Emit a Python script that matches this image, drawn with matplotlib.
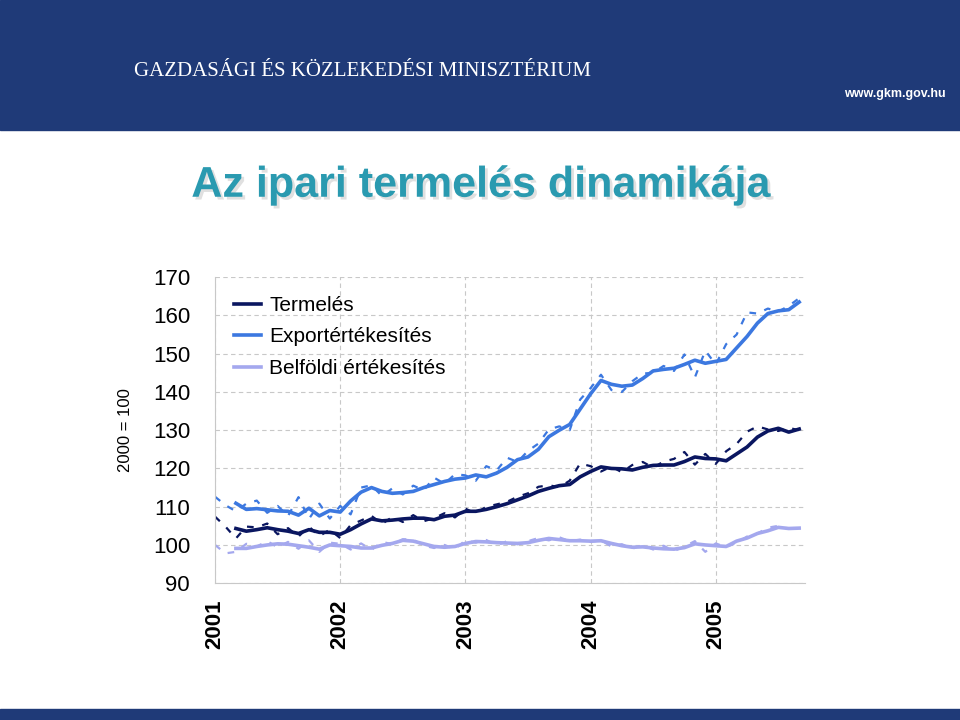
import matplotlib.pyplot as plt
from matplotlib.patches import Rectangle
import matplotlib.patheffects as pe

plt.rcParams['font.family'] = 'Liberation Sans'

years = ['2001', '2002', '2003', '2004', '2005']

# trend (solid) series, monthly from 2001 March to 2005 September
termeles = [104.3, 103.6, 104.0, 104.5, 104.0, 103.6, 103.0, 104.0, 103.3, 103.3,
            102.8, 104.0, 105.5, 106.8, 106.3, 106.5, 106.8, 107.0, 107.0, 106.6,
            107.5, 107.8, 108.8, 108.8, 109.3, 110.0, 110.8, 111.8, 112.8, 114.0,
            114.8, 115.5, 115.8, 117.8, 119.2, 120.4, 120.0, 119.9, 119.6, 120.3,
            120.8, 120.9, 120.9, 121.8, 123.0, 122.6, 122.5, 122.0, 123.8, 125.6,
            128.2, 129.8, 130.5, 129.5, 130.3]
export = [110.9, 109.3, 109.5, 109.2, 108.9, 108.8, 107.8, 109.6, 107.6, 109.0,
          108.6, 111.5, 113.8, 115.0, 114.0, 113.5, 113.7, 114.0, 115.0, 115.8,
          116.6, 117.2, 117.5, 118.3, 117.8, 118.8, 120.3, 122.3, 123.0, 125.0,
          128.3, 130.0, 131.5, 135.5, 139.5, 143.0, 142.0, 141.5, 141.8, 143.5,
          145.5, 145.9, 146.2, 147.2, 148.3, 147.5, 148.0, 148.5, 151.5, 154.5,
          158.0, 160.5, 161.2, 161.5, 163.5]
belfoldi = [99.1, 99.1, 99.6, 100.0, 100.3, 100.2, 99.8, 99.4, 98.9, 100.0,
            99.8, 99.6, 99.2, 99.2, 99.9, 100.4, 101.2, 101.0, 100.3, 99.6,
            99.4, 99.6, 100.4, 100.9, 100.8, 100.6, 100.5, 100.4, 100.6, 101.2,
            101.7, 101.4, 101.1, 101.1, 101.0, 101.1, 100.4, 99.8, 99.4, 99.5,
            99.2, 99.0, 98.9, 99.3, 100.3, 100.0, 99.8, 99.6, 101.0, 101.8,
            103.0, 103.7, 104.6, 104.3, 104.4]

# raw (dashed) series, monthly from 2001 January to 2005 September
termeles_raw = [107.4, 104.8, 101.7, 104.8, 104.6, 105.6, 102.8, 104.4, 102.2, 104.8,
                102.3, 104.0, 101.8, 105.2, 106.4, 107.6, 105.5, 107.3, 106.0, 107.8,
                106.2, 107.0, 108.3, 107.2, 109.5, 108.2, 110.0, 110.6, 111.3, 112.6,
                113.5, 115.2, 115.6, 115.1, 116.8, 121.3, 120.6, 119.2, 120.5, 119.0,
                120.9, 121.7, 120.2, 121.8, 122.5, 124.3, 121.0, 123.8, 121.2, 124.5,
                126.4, 129.6, 131.0, 130.2, 129.8, 130.6, 130.0]
export_raw = [112.6, 110.4, 108.8, 110.8, 111.6, 108.4, 110.2, 107.6, 112.5, 106.8,
              110.8, 106.9, 110.2, 108.0, 115.0, 115.6, 112.8, 114.8, 113.2, 115.5,
              114.3, 117.6, 116.0, 118.5, 118.2, 116.8, 120.6, 119.5, 122.8, 121.7,
              124.6, 126.5, 130.2, 131.0, 130.0, 138.0, 141.0, 144.5, 140.5, 140.0,
              142.8, 144.8, 145.0, 146.8, 145.5, 149.8, 143.8, 150.8, 147.2, 152.5,
              155.0, 160.8, 160.5, 161.8, 161.0, 162.5, 164.5]
belfoldi_raw = [100.0, 97.8, 98.2, 100.3, 99.6, 101.0, 99.4, 100.8, 99.0, 101.2,
                98.2, 100.6, 100.3, 98.8, 100.4, 98.7, 100.8, 100.2, 101.5, 101.4,
                99.8, 99.2, 100.0, 98.9, 101.2, 100.6, 101.3, 99.9, 101.0, 100.2,
                101.0, 101.8, 101.2, 102.0, 101.0, 101.4, 100.8, 101.2, 99.6, 100.2,
                99.0, 100.0, 98.8, 99.8, 98.4, 99.6, 101.0, 98.2, 100.4, 99.4,
                100.6, 102.2, 103.0, 104.5, 105.0, 104.2, 104.8]

c_term = '#0a1660'
c_exp = '#3c78e0'
c_bel = '#a4a8ee'

fig = plt.figure(figsize=(9.6, 7.2), dpi=100)

# header banner and footer bar
fig.patches.append(Rectangle((0, 0.82), 1, 0.18, transform=fig.transFigure,
                             color='#1f3a78', zorder=0))
fig.patches.append(Rectangle((0, 0.0), 1, 0.015, transform=fig.transFigure,
                             color='#1f3a78', zorder=0))
fig.text(0.14, 0.90, 'GAZDASÁGI ÉS KÖZLEKEDÉSI MINISZTÉRIUM', color='white',
         fontsize=15, fontfamily='Liberation Serif', va='center')
fig.text(0.985, 0.87, 'www.gkm.gov.hu', color='white', fontsize=9,
         fontweight='bold', ha='right', va='center')

fig.text(0.5, 0.742, 'Az ipari termelés dinamikája', color='#2a9ab0',
         fontsize=31, fontweight='bold', ha='center', va='center',
         path_effects=[pe.withSimplePatchShadow(offset=(2, -2), shadow_rgbFace='#9a9a9a')])

ax = fig.add_axes([0.224, 0.190, 0.615, 0.425])
x_raw = list(range(len(termeles_raw)))
x_tr = list(range(2, 2 + len(termeles)))

ax.plot(x_raw, termeles_raw, color=c_term, lw=1.6, ls=(0, (3, 4)))
ax.plot(x_raw, export_raw, color=c_exp, lw=1.6, ls=(0, (3, 4)))
ax.plot(x_raw, belfoldi_raw, color=c_bel, lw=1.6, ls=(0, (3, 4)))
ax.plot(x_tr, termeles, color=c_term, lw=2.6, label='Termelés')
ax.plot(x_tr, export, color=c_exp, lw=2.6, label='Exportértékesítés')
ax.plot(x_tr, belfoldi, color=c_bel, lw=2.6, label='Belföldi értékesítés')

ax.set_xlim(0, 56.6)
ax.set_ylim(90, 170)
ax.set_yticks(range(90, 171, 10))
ax.set_xticks([0, 12, 24, 36, 48])
ax.set_xticklabels(years, rotation=90, fontsize=16, fontweight='bold')
ax.tick_params(axis='x', length=0, pad=12)
ax.tick_params(axis='y', length=0, labelsize=16, pad=18)
ax.grid(True, color='#c8c8c8', ls=(0, (4, 3)), lw=0.8)
for s in ['top', 'right']:
    ax.spines[s].set_visible(False)
ax.spines['left'].set_color('#c8c8c8')
ax.spines['bottom'].set_color('#c8c8c8')
ax.set_ylabel('2000 = 100', fontsize=12, labelpad=14)

leg = ax.legend(loc='upper left', frameon=False, fontsize=15, handlelength=1.3,
                handletextpad=0.4, labelspacing=0.6, bbox_to_anchor=(0.0, 1.0))

fig.savefig('out.png')
